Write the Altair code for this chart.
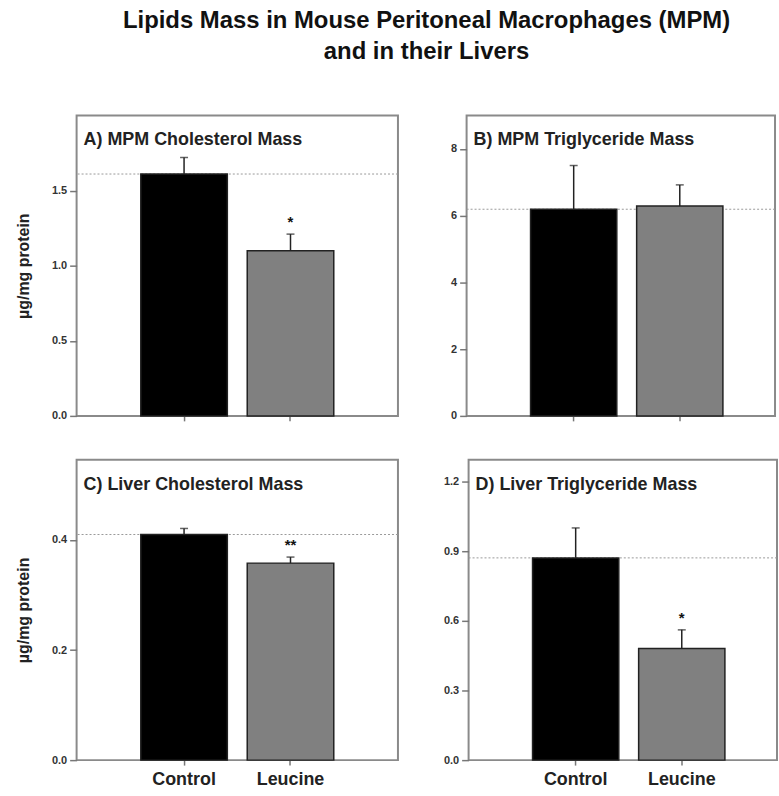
import altair as alt
import pandas as pd

groups = ["Control", "Leucine"]
bar_colors = ["#000000", "#808080"]

a_mean = [1.61, 1.10]
a_err = [0.11, 0.11]
a_star = ["", "*"]

b_mean = [6.19, 6.29]
b_err = [1.31, 0.63]
b_star = ["", ""]

c_mean = [0.410, 0.358]
c_err = [0.011, 0.011]
c_star = ["", "**"]

d_mean = [0.871, 0.481]
d_err = [0.129, 0.080]
d_star = ["", "*"]

a_ticks = [0.0, 0.5, 1.0, 1.5]
b_ticks = [0, 2, 4, 6, 8]
c_ticks = [0.0, 0.2, 0.4]
d_ticks = [0.0, 0.3, 0.6, 0.9, 1.2]

FONT = "Liberation Sans"
Y_EXT = 24


def panel(title_text, means, errs, stars, domain, ticks, fmt, width, height,
          x_scale, show_x_labels, y_title):
    df = pd.DataFrame({
        "group": groups,
        "mean": means,
        "top": [m + e for m, e in zip(means, errs)],
        "star": stars,
    })
    ref_df = pd.DataFrame({"ref": [means[0]]})
    lab_df = pd.DataFrame({"t": [title_text]})

    y_axis = alt.Axis(
        values=ticks, format=fmt, domain=False, grid=False,
        tickSize=7, tickColor="#777777", tickWidth=1.5,
        labelFont=FONT, labelFontSize=11, labelFontWeight="bold",
        labelColor="#333333", labelPadding=3,
        minExtent=Y_EXT, maxExtent=Y_EXT,
        title=y_title if y_title else None,
        titleFont=FONT, titleFontSize=16, titleFontWeight="bold",
        titleColor="#222222", titlePadding=21,
    )
    y_scale = alt.Scale(domain=domain, nice=False, zero=True)
    x_axis = alt.Axis(
        title=None, labels=show_x_labels, labelAngle=0, domain=False,
        tickSize=5, tickColor="#777777", tickWidth=1.5,
        labelFont=FONT, labelFontSize=18, labelFontWeight="bold",
        labelColor="#222222", labelPadding=5,
    )
    x_enc = alt.X("group:N", scale=x_scale, axis=x_axis, sort=groups)

    base = alt.Chart(df)
    ref = alt.Chart(ref_df).mark_rule(
        color="#999999", strokeDash=[2, 2], strokeWidth=1
    ).encode(y=alt.Y("ref:Q", scale=y_scale, axis=y_axis))
    bars = base.mark_bar(stroke="#222222", strokeWidth=1.5).encode(
        x=x_enc,
        y=alt.Y("mean:Q", scale=y_scale, axis=y_axis),
        color=alt.Color("group:N", scale=alt.Scale(domain=groups, range=bar_colors), legend=None),
    )
    err = base.mark_rule(color="#222222", strokeWidth=1.5).encode(
        x=x_enc, y="mean:Q", y2="top:Q"
    )
    cap = base.mark_tick(color="#222222", thickness=1.5, size=8).encode(
        x=x_enc, y="top:Q"
    )
    star = base.mark_text(
        font=FONT, fontSize=15, fontWeight="bold", baseline="alphabetic", dy=-7,
        color="#111111"
    ).encode(x=x_enc, y="top:Q", text="star:N")
    label = alt.Chart(lab_df).mark_text(
        align="left", baseline="alphabetic", font=FONT, fontSize=18,
        fontWeight="bold", color="#222222"
    ).encode(x=alt.value(7), y=alt.value(30), text="t:N")
    return alt.layer(ref, bars, err, cap, star, label).properties(
        width=width, height=height
    )


left_x = alt.Scale(domain=groups, paddingInner=0.187, paddingOuter=0.603, align=0.5)
right_x = alt.Scale(domain=groups, paddingInner=0.187, paddingOuter=0.547, align=0.551)

pA = panel("A) MPM Cholesterol Mass", a_mean, a_err, a_star, [0, 2.0], a_ticks, ".1f",
           323, 302, left_x, False, "\u00b5g/mg protein")
pB = panel("B) MPM Triglyceride Mass", b_mean, b_err, b_star, [0, 9], b_ticks, "d",
           310, 302, right_x, False, None)
pC = panel("C) Liver Cholesterol Mass", c_mean, c_err, c_star, [0, 0.546], c_ticks, ".1f",
           323, 302, left_x, True, "\u00b5g/mg protein")
pD = panel("D)  Liver Triglyceride Mass", d_mean, d_err, d_star, [0, 1.294], d_ticks, ".1f",
           310, 302, right_x, True, None)

row1 = alt.hconcat(pA, pB, spacing=42)
row2 = alt.hconcat(pC, pD, spacing=42)

chart = alt.vconcat(row1, row2, spacing=36).properties(
    title=alt.TitleParams(
        text=["Lipids Mass in Mouse Peritoneal Macrophages (MPM)", "and in their Livers"],
        font=FONT, fontSize=24, fontWeight="bold", color="#111111",
        lineHeight=31, anchor="middle", offset=51, dx=30,
    ),
    padding={"left": 15, "top": 7, "right": 0, "bottom": 0},
    background="white",
).configure_view(stroke="#8a8a8a", strokeWidth=2)

chart.save("out.html", embed_options={"renderer": "svg", "actions": False})
